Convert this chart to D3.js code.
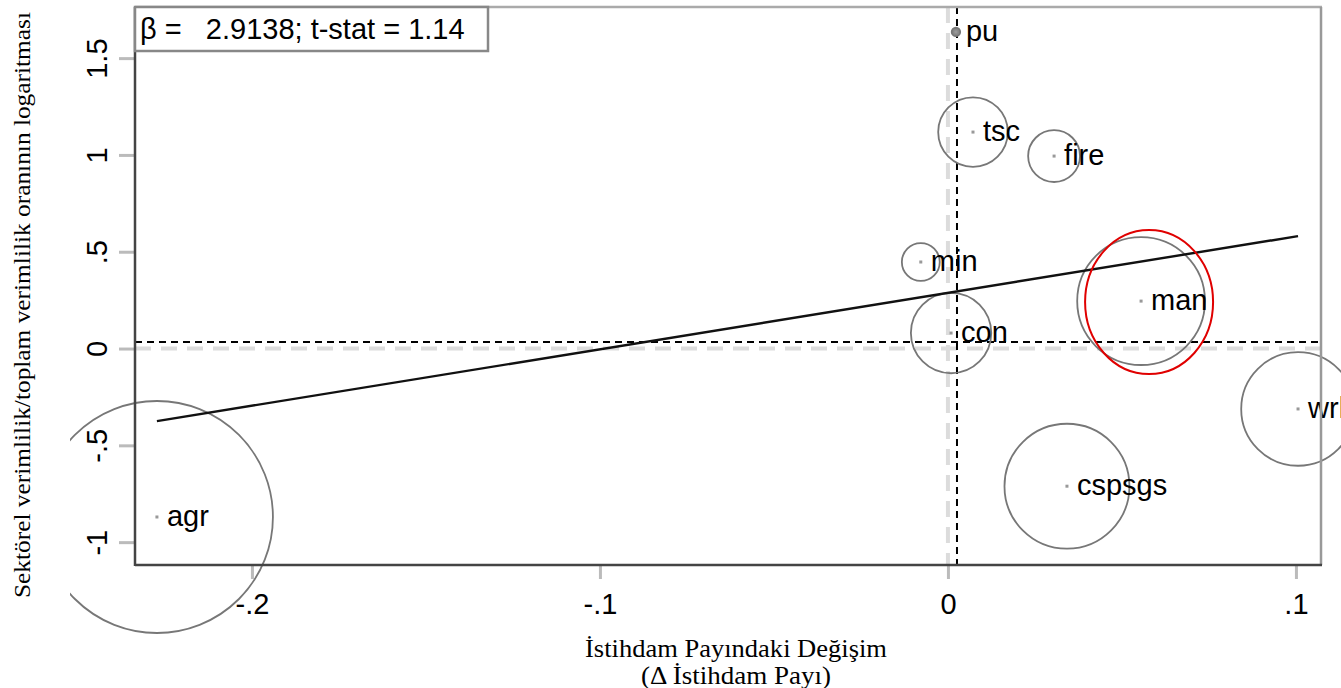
<!DOCTYPE html>
<html>
<head>
<meta charset="utf-8">
<script src="https://cdn.jsdelivr.net/npm/d3@7"></script>
<style>
  body { margin: 0; background: #fff; }
  svg { display: block; }
  .lbl { font-family: "Liberation Sans", Arial, sans-serif; font-size: 29px; fill: #000; }
  .ttl { font-family: "Liberation Serif", "Times New Roman", serif; fill: #000; }
</style>
</head>
<body>
<div id="chart"></div>
<script>
// sector data
var sectors = ["agr", "min", "con", "man", "pu", "wrl", "tsc", "fire", "cspsgs"];
var dShare = [-0.2273, -0.0078, 0.0009, 0.0555, 0.0023, 0.1006, 0.0072, 0.0305, 0.0342];
var logRelProd = [-0.870, 0.447, 0.080, 0.245, 1.635, -0.312, 1.118, 0.994, -0.711];
var weights = [0.300, 0.008, 0.036, 0.091, 0.0004, 0.072, 0.027, 0.015, 0.087];

var xTicks = [-0.2, -0.1, 0, 0.1];
var xTickLabels = ["-.2", "-.1", "0", ".1"];
var yTicks = [-1, -0.5, 0, 0.5, 1, 1.5];
var yTickLabels = ["-1", "-.5", "0", ".5", "1", "1.5"];

var beta = 2.9138, intercept = 0.2875;
var meanX = 0.0026, meanY = 0.034;
var statText = "β =   2.9138; t-stat = 1.14";
var highlight = { x: 0.0578, y: 0.24 };

var svgWidth = 1341, svgHeight = 688;
var plot = { left: 135, right: 1321, top: 7, bottom: 565 };

var svg = d3.select("#chart").append("svg")
    .attr("width", svgWidth)
    .attr("height", svgHeight);

var x = d3.scaleLinear().domain([-0.2336, 0.1072]).range([plot.left, plot.right]);
var y = d3.scaleLinear().domain([-1.118, 1.764]).range([plot.bottom, plot.top]);
var r = d3.scaleSqrt().domain([0, 0.3]).range([0, 116]);

var data = sectors.map(function (s, i) {
    return { name: s, dx: dShare[i], ly: logRelProd[i], w: weights[i] };
});

svg.append("clipPath").attr("id", "clipArea")
    .append("rect").attr("x", 70).attr("y", 0).attr("width", svgWidth - 70).attr("height", svgHeight);

// zero reference lines (light gray, long dashes)
svg.append("line")
    .attr("x1", x(0)).attr("x2", x(0)).attr("y1", plot.top).attr("y2", plot.bottom)
    .attr("stroke", "#dcdcdc").attr("stroke-width", 4).attr("stroke-dasharray", "16,10");
svg.append("line")
    .attr("x1", plot.left).attr("x2", plot.right).attr("y1", y(0)).attr("y2", y(0))
    .attr("stroke", "#dcdcdc").attr("stroke-width", 4).attr("stroke-dasharray", "16,10");

// mean lines (black, short dashes)
svg.append("line")
    .attr("x1", x(meanX)).attr("x2", x(meanX)).attr("y1", plot.top).attr("y2", plot.bottom)
    .attr("stroke", "#000").attr("stroke-width", 2).attr("stroke-dasharray", "7,5");
svg.append("line")
    .attr("x1", plot.left).attr("x2", plot.right).attr("y1", y(meanY)).attr("y2", y(meanY))
    .attr("stroke", "#000").attr("stroke-width", 2).attr("stroke-dasharray", "7,5");

// bubbles
svg.append("g").attr("clip-path", "url(#clipArea)")
    .selectAll("circle")
    .data(data)
    .enter()
    .append("circle")
    .attr("cx", d => x(d.dx))
    .attr("cy", d => y(d.ly))
    .attr("r", d => r(d.w))
    .attr("fill", d => r(d.w) < 6 ? "#888" : "none")
    .attr("stroke", "#777")
    .attr("stroke-width", 1.8);

// centre dots
svg.append("g")
    .selectAll("rect")
    .data(data)
    .enter()
    .append("rect")
    .attr("x", d => x(d.dx) - 1.5)
    .attr("y", d => y(d.ly) - 1.5)
    .attr("width", 3).attr("height", 3)
    .attr("fill", "#999");

// fitted line
var xr = d3.extent(dShare);
svg.append("line")
    .attr("x1", x(xr[0])).attr("y1", y(intercept + beta * xr[0]))
    .attr("x2", x(xr[1])).attr("y2", y(intercept + beta * xr[1]))
    .attr("stroke", "#111").attr("stroke-width", 2.4);

// sector labels
svg.append("g")
    .selectAll("text")
    .data(data)
    .enter()
    .append("text")
    .attr("class", "lbl")
    .attr("x", d => x(d.dx) + 10)
    .attr("y", d => y(d.ly) + 9)
    .text(d => d.name);

// red annotation ellipse
svg.append("ellipse")
    .attr("cx", x(highlight.x)).attr("cy", y(highlight.y))
    .attr("rx", 64).attr("ry", 72)
    .attr("fill", "none").attr("stroke", "#e00000").attr("stroke-width", 2);

// axes
var bottomAxis = d3.axisBottom(x).tickValues(xTicks)
    .tickFormat((d, i) => xTickLabels[i]).tickSize(14).tickPadding(14);
var leftAxis = d3.axisLeft(y).tickValues(yTicks)
    .tickFormat((d, i) => yTickLabels[i]).tickSize(16);

var gx = svg.append("g").attr("transform", `translate(0, ${plot.bottom})`).call(bottomAxis);
gx.select(".domain").remove();
gx.selectAll(".tick line").attr("stroke", "#bbb").attr("stroke-width", 3);
gx.selectAll(".tick text").attr("class", "lbl").attr("fill", "#000");

var gy = svg.append("g").attr("transform", `translate(${plot.left}, 0)`).call(leftAxis);
gy.select(".domain").remove();
gy.selectAll(".tick line").attr("stroke", "#bbb").attr("stroke-width", 3);
gy.selectAll(".tick text").attr("class", "lbl").attr("fill", "#000")
    .attr("x", null).attr("dy", null)
    .attr("text-anchor", "middle")
    .attr("transform", "translate(-28, 0) rotate(-90)");

// frame
svg.append("line").attr("x1", plot.left).attr("x2", plot.right + 1).attr("y1", plot.top).attr("y2", plot.top)
    .attr("stroke", "#aaa").attr("stroke-width", 2.5);
svg.append("line").attr("x1", plot.right).attr("x2", plot.right).attr("y1", plot.top).attr("y2", plot.bottom)
    .attr("stroke", "#999").attr("stroke-width", 2.5);
svg.append("line").attr("x1", plot.left).attr("x2", plot.left).attr("y1", plot.top).attr("y2", plot.bottom + 1)
    .attr("stroke", "#444").attr("stroke-width", 2.5);
svg.append("line").attr("x1", plot.left).attr("x2", plot.right + 1).attr("y1", plot.bottom).attr("y2", plot.bottom)
    .attr("stroke", "#444").attr("stroke-width", 2.5);

// stat box
var box = svg.append("g");
box.append("rect")
    .attr("x", plot.left).attr("y", plot.top)
    .attr("width", 353).attr("height", 44)
    .attr("fill", "#fff").attr("stroke", "#888").attr("stroke-width", 2.5);
box.append("text")
    .attr("class", "lbl")
    .attr("x", plot.left + 5).attr("y", plot.top + 32)
    .attr("xml:space", "preserve")
    .style("white-space", "pre")
    .text(statText);

// axis titles
svg.append("text")
    .attr("class", "ttl")
    .attr("text-anchor", "middle")
    .attr("font-size", 23)
    .attr("transform", "translate(30, 305) rotate(-90)")
    .attr("textLength", 586).attr("lengthAdjust", "spacingAndGlyphs")
    .text("Sektörel verimlilik/toplam verimlilik oranının logaritması");

svg.append("text")
    .attr("class", "ttl")
    .attr("text-anchor", "middle")
    .attr("font-size", 26)
    .attr("x", 736).attr("y", 657)
    .attr("textLength", 302).attr("lengthAdjust", "spacingAndGlyphs")
    .text("İstihdam Payındaki Değişim");

svg.append("text")
    .attr("class", "ttl")
    .attr("text-anchor", "middle")
    .attr("font-size", 26)
    .attr("x", 736).attr("y", 684)
    .attr("textLength", 190).attr("lengthAdjust", "spacingAndGlyphs")
    .text("(Δ İstihdam Payı)");
</script>
</body>
</html>
